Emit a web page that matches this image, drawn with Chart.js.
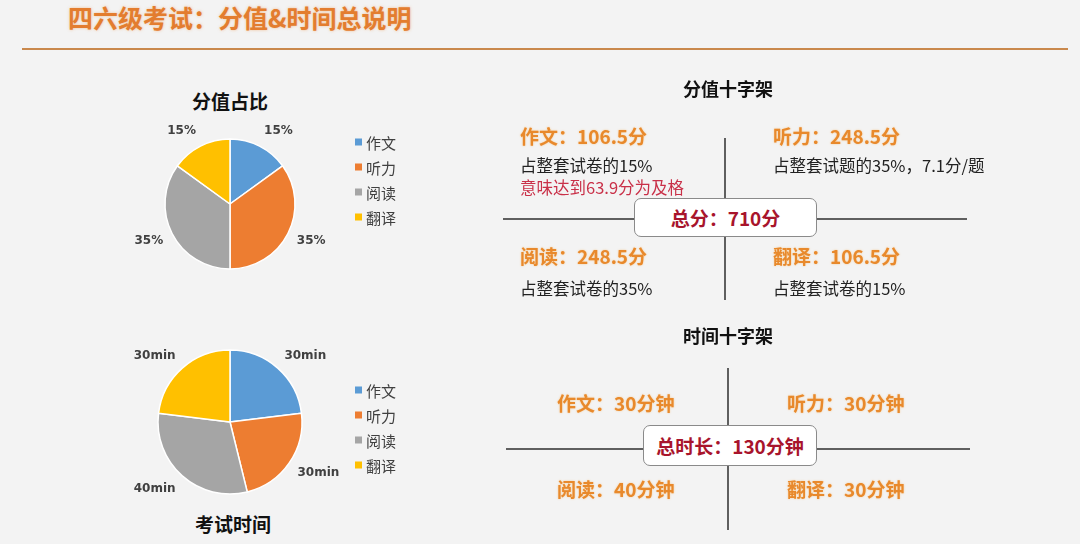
<!DOCTYPE html>
<html><head><meta charset="utf-8">
<script src="https://cdn.jsdelivr.net/npm/chart.js@4.4.1/dist/chart.umd.min.js"></script>
<style>
html,body{margin:0;padding:0;}
body{width:1080px;height:544px;background:#f3f3f3;position:relative;overflow:hidden;font-family:"Noto Sans CJK SC","Noto Sans",sans-serif;}
canvas{position:absolute;left:0;top:0;}
.t{position:absolute;white-space:nowrap;line-height:1;}
.title{left:68px;top:5px;font-size:25px;font-weight:bold;color:#e37d2f;text-shadow:0 0 3px rgba(240,170,110,0.7);}
.hr{position:absolute;left:22px;top:48px;width:1046px;height:2px;background:#c9884c;}
.ptitle{font-size:19px;font-weight:bold;color:#111;transform:translate(-50%,-50%);}
.ctitle{font-size:18px;font-weight:bold;color:#111;transform:translate(-50%,-50%);}
.or{font-size:19px;font-weight:bold;color:#e8892c;text-shadow:0 0 2px rgba(245,190,120,0.8);transform:translateY(-50%);}
.bk{font-size:16.5px;color:#222;transform:translateY(-50%);}
.rd{font-size:16.5px;color:#c93048;transform:translateY(-50%);}
.vl{position:absolute;width:2px;background:#5f5f5f;}
.hl{position:absolute;height:2px;background:#5f5f5f;}
.box{position:absolute;background:#fff;border:1.5px solid #8a8a8a;border-radius:7px;box-sizing:border-box;display:flex;align-items:center;justify-content:center;font-weight:bold;font-size:19px;color:#a8142c;}
</style></head>
<body>
<div class="t title">四六级考试：分值&amp;时间总说明</div>
<div class="hr"></div>

<div class="t ptitle" style="left:230px;top:100px;">分值占比</div>
<div class="t ptitle" style="left:233px;top:523px;">考试时间</div>

<canvas id="c1" width="1080" height="544"></canvas>
<canvas id="c2" width="1080" height="544"></canvas>

<!-- 分值十字架 -->
<div class="t ctitle" style="left:728px;top:88px;">分值十字架</div>
<div class="vl" style="left:724px;top:138px;height:162px;"></div>
<div class="hl" style="left:503px;top:218px;width:464px;"></div>
<div class="box" style="left:634px;top:198px;width:183px;height:39px;">总分：710分</div>
<div class="t or" style="left:520px;top:135px;">作文：106.5分</div>
<div class="t bk" style="left:520px;top:165px;">占整套试卷的15%</div>
<div class="t rd" style="left:520px;top:187px;">意味达到63.9分为及格</div>
<div class="t or" style="left:773px;top:135px;">听力：248.5分</div>
<div class="t bk" style="left:773px;top:165px;">占整套试题的35%，7.1分/题</div>
<div class="t or" style="left:520px;top:255px;">阅读：248.5分</div>
<div class="t bk" style="left:520px;top:288px;">占整套试卷的35%</div>
<div class="t or" style="left:773px;top:255px;">翻译：106.5分</div>
<div class="t bk" style="left:773px;top:288px;">占整套试卷的15%</div>

<!-- 时间十字架 -->
<div class="t ctitle" style="left:728px;top:335px;">时间十字架</div>
<div class="vl" style="left:727px;top:368px;height:162px;"></div>
<div class="hl" style="left:506px;top:448px;width:464px;"></div>
<div class="box" style="left:643px;top:425px;width:174px;height:41px;">总时长：130分钟</div>
<div class="t or" style="left:557px;top:402px;">作文：30分钟</div>
<div class="t or" style="left:787px;top:402px;">听力：30分钟</div>
<div class="t or" style="left:557px;top:488px;">阅读：40分钟</div>
<div class="t or" style="left:787px;top:488px;">翻译：30分钟</div>

<script>
const categories = ['作文', '听力', '阅读', '翻译'];
const scoreShare = [15, 35, 35, 15];
const scoreLabels = ['15%', '35%', '35%', '15%'];
const timeMinutes = [30, 30, 40, 30];
const timeLabels = ['30min', '30min', '40min', '30min'];
const colors = ['#5b9bd5', '#ed7d31', '#a5a5a5', '#ffc000'];

const outLabels = {
  id: 'outLabels',
  afterDatasetsDraw(chart, args, opts) {
    const ctx = chart.ctx;
    const meta = chart.getDatasetMeta(0);
    ctx.save();
    ctx.font = 'bold 12px "DejaVu Sans", sans-serif';
    ctx.fillStyle = '#404040';
    ctx.textAlign = 'center';
    ctx.textBaseline = 'middle';
    meta.data.forEach((arc, i) => {
      const p = arc.getProps(['x','y','startAngle','endAngle','outerRadius'], true);
      const mid = (p.startAngle + p.endAngle) / 2;
      const sx = Math.cos(mid), sy = Math.sin(mid);
      const d = p.outerRadius + 10;
      const txt = opts.texts[i];
      const w = ctx.measureText(txt).width;
      const x = p.x + sx * d + Math.sign(sx) * w / 2;
      const y = p.y + sy * d + sy * 7;
      ctx.fillText(txt, x, y);
    });
    // legend
    ctx.font = '15px "Noto Sans CJK SC", sans-serif';
    ctx.textAlign = 'left';
    chart.data.labels.forEach((lab, i) => {
      const y = opts.legendTop + i * opts.legendStep;
      ctx.fillStyle = chart.data.datasets[0].backgroundColor[i];
      ctx.fillRect(opts.legendX, y - 3.5, 7, 7);
      ctx.fillStyle = '#404040';
      ctx.fillText(lab, opts.legendX + 11, y + 1);
    });
    ctx.restore();
  }
};

function makePie(id, values, texts, center, radius, legendTop, legendStep) {
  new Chart(document.getElementById(id), {
    type: 'pie',
    data: {
      labels: categories,
      datasets: [{ data: values, backgroundColor: colors, borderColor: '#ffffff', borderWidth: 1.5, radius: radius }]
    },
    options: {
      responsive: false,
      animation: false,
      events: [],
      layout: { padding: { left: center[0] - radius - 2, right: 1080 - center[0] - radius - 2, top: center[1] - radius - 2, bottom: 544 - center[1] - radius - 2 } },
      plugins: {
        legend: { display: false },
        tooltip: { enabled: false },
        outLabels: { texts: texts, legendX: 355, legendTop: legendTop, legendStep: legendStep }
      }
    },
    plugins: [outLabels]
  });
}

makePie('c1', scoreShare, scoreLabels, [230, 204], 65, 142, 25);
makePie('c2', timeMinutes, timeLabels, [230, 422], 72, 390, 25);
</script>
</body></html>
